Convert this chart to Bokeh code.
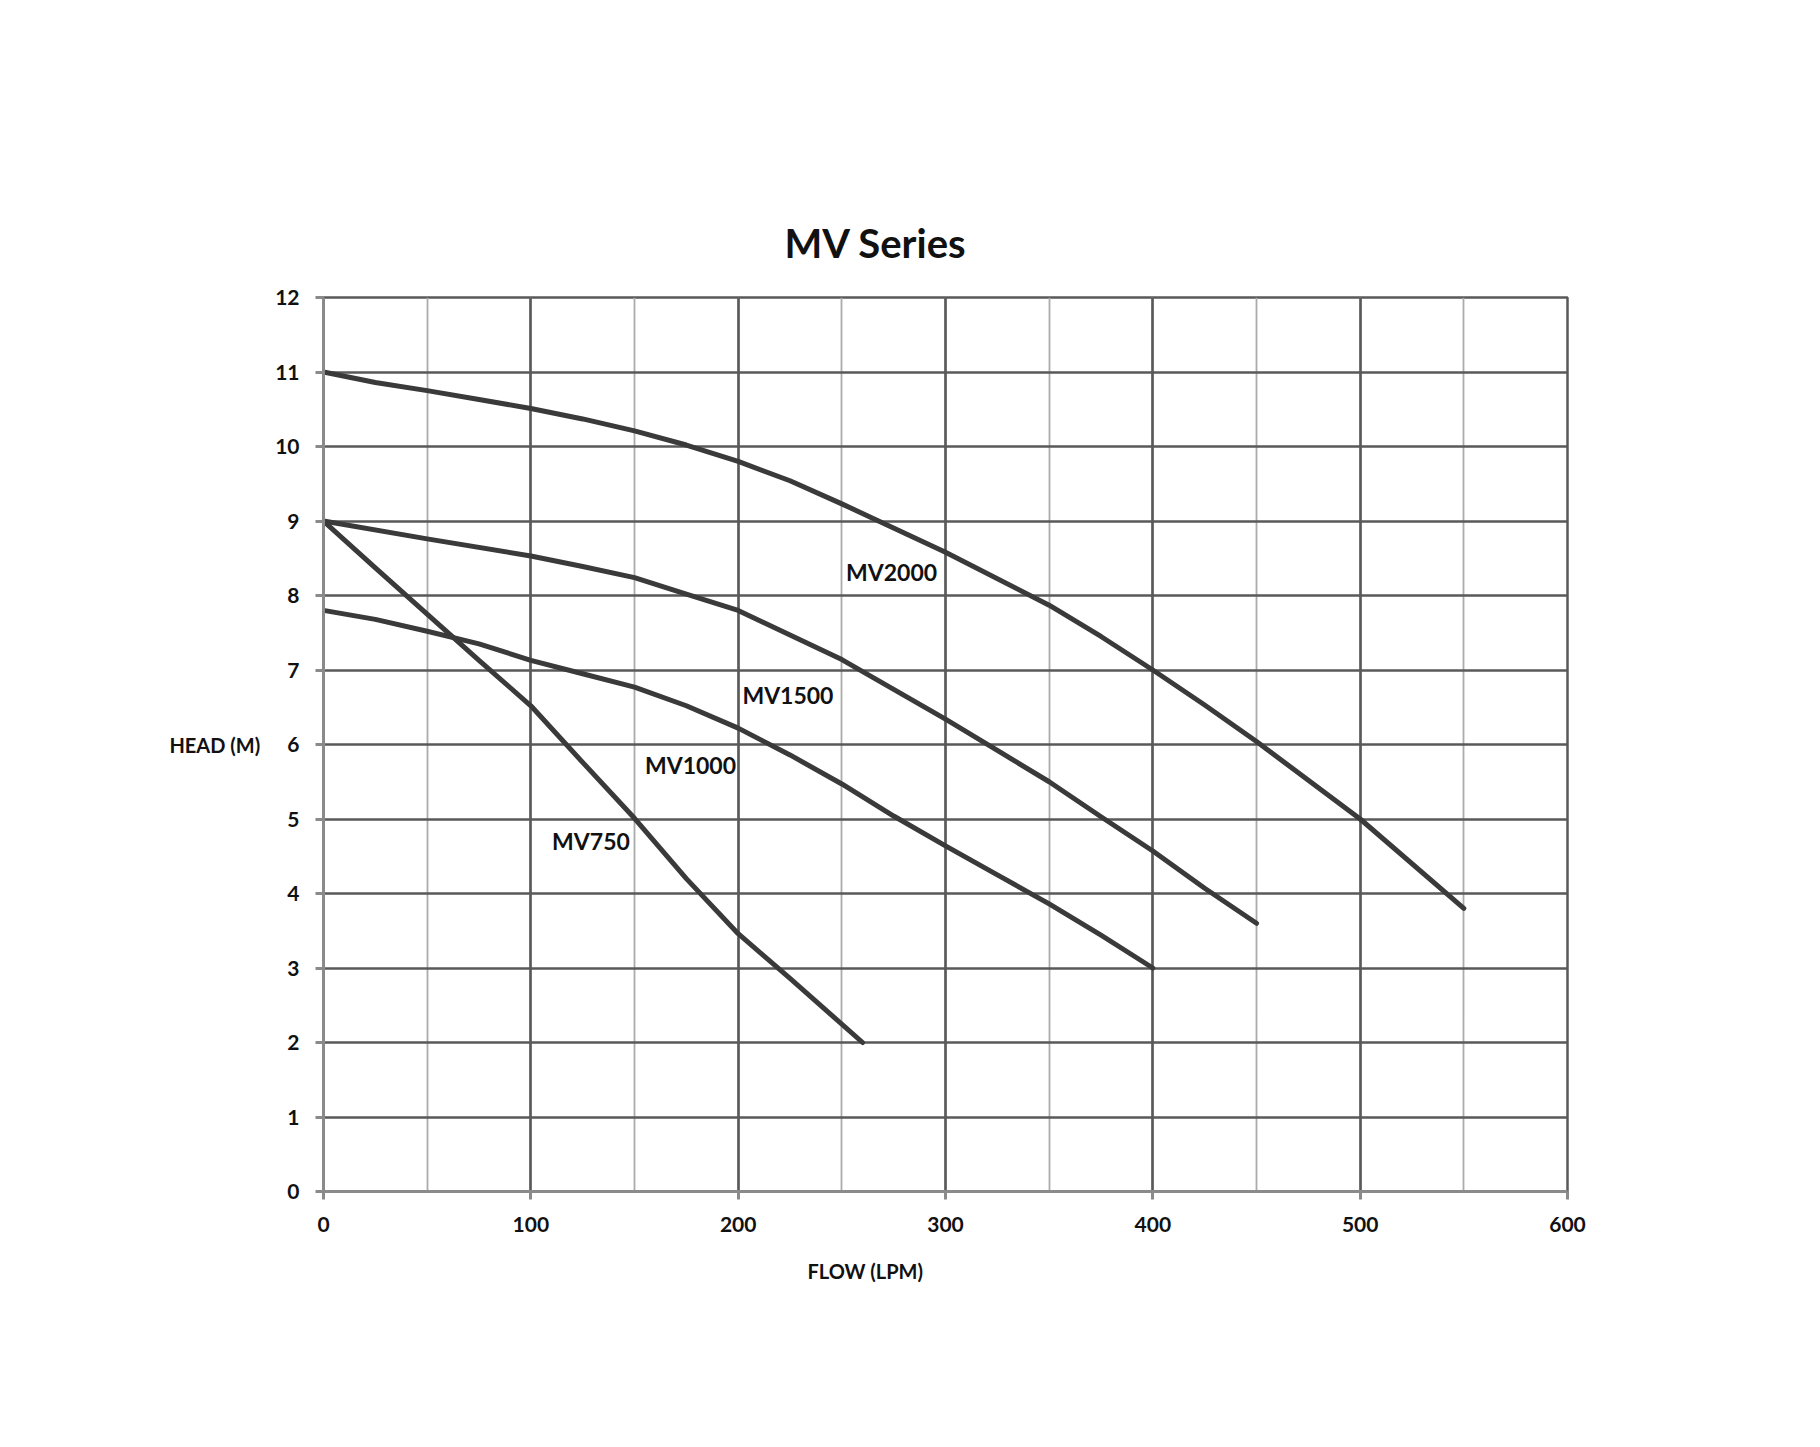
from bokeh.plotting import figure
from bokeh.models import Range1d, SingleIntervalTicker, Title, ColumnDataSource
from bokeh.core.properties import value
from bokeh.embed import file_html
from bokeh.resources import INLINE

# ---- data ----
mv2000_flow = [0, 25, 50, 75, 100, 125, 150, 175, 200, 225, 250, 300, 350, 375, 400, 425, 450, 475, 500, 550]
mv2000_head = [11.0, 10.86, 10.75, 10.63, 10.51, 10.37, 10.21, 10.02, 9.80, 9.54, 9.23, 8.58, 7.87, 7.45,
               7.0, 6.53, 6.04, 5.52, 5.0, 3.8]

mv1500_flow = [0, 50, 100, 125, 150, 175, 200, 250, 300, 325, 350, 375, 400, 425, 450]
mv1500_head = [9.0, 8.76, 8.53, 8.39, 8.24, 8.02, 7.80, 7.14, 6.34, 5.92, 5.50, 5.03, 4.57, 4.07, 3.6]

mv1000_flow = [0, 25, 50, 75, 100, 125, 150, 175, 200, 225, 250, 275, 300, 325, 350, 375, 400]
mv1000_head = [7.8, 7.68, 7.52, 7.35, 7.13, 6.95, 6.77, 6.52, 6.22, 5.86, 5.47, 5.04, 4.64, 4.25, 3.86, 3.44, 3.0]

mv750_flow = [0, 25, 50, 75, 100, 125, 150, 175, 200, 225, 260]
mv750_head = [9.0, 8.37, 7.75, 7.13, 6.52, 5.76, 5.01, 4.20, 3.46, 2.86, 2.0]

series_names = ["MV2000", "MV1500", "MV1000", "MV750"]
label_flow = [274, 224, 177, 129]
label_head = [8.31, 6.67, 5.73, 4.71]

title_text = "MV Series"
x_title = "FLOW (LPM)"
y_title = "HEAD (M)"

FONT = "Lato"
DARK = "#595959"
CURVE = "#3a3a3a"
TXT = "#111111"

p = figure(width=1800, height=1430, output_backend="svg", toolbar_location=None,
           x_range=Range1d(0, 600), y_range=Range1d(0, 12),
           min_border_left=323, min_border_right=233,
           min_border_top=297, min_border_bottom=239)
p.background_fill_color = "white"
p.border_fill_color = "white"
p.outline_line_color = DARK
p.outline_line_width = 2.5

# chart title (off-centre, as in the reference)
p.title = Title(text=title_text, align="left", offset=461, standoff=62,
                text_font=FONT, text_font_style="bold", text_font_size="40px",
                text_color=TXT)

# axes
p.xaxis.ticker = SingleIntervalTicker(interval=100, num_minor_ticks=2)
p.yaxis.ticker = SingleIntervalTicker(interval=1, num_minor_ticks=0)
for ax in (p.xaxis, p.yaxis):
    ax.axis_line_color = "#8a8a8a"
    ax.axis_line_width = 3
    ax.major_tick_line_color = "#8a8a8a"
    ax.major_tick_line_width = 3
    ax.major_tick_out = 8
    ax.major_tick_in = 0
    ax.minor_tick_line_color = None
    ax.major_label_text_font = FONT
    ax.major_label_text_font_style = "bold"
    ax.major_label_text_font_size = "21px"
    ax.major_label_text_color = TXT
p.xaxis.major_label_standoff = 17
p.yaxis.major_label_standoff = 16

p.yaxis.axis_label = y_title
p.yaxis.axis_label_orientation = "horizontal"
p.yaxis.axis_label_standoff = 12
p.yaxis.axis_label_text_font = FONT
p.yaxis.axis_label_text_font_style = "bold"
p.yaxis.axis_label_text_font_size = "20px"
p.yaxis.axis_label_text_color = TXT

p.add_layout(Title(text=x_title, align="left", offset=484, standoff=44,
                   text_font=FONT, text_font_style="bold", text_font_size="20px",
                   text_color=TXT), "below")

# grid
p.xgrid.grid_line_color = DARK
p.xgrid.grid_line_width = 2.6
p.xgrid.minor_grid_line_color = "#ababab"
p.xgrid.minor_grid_line_width = 1.8
p.ygrid.grid_line_color = DARK
p.ygrid.grid_line_width = 2.6

# curves
for fx, hy in [(mv2000_flow, mv2000_head), (mv1500_flow, mv1500_head),
               (mv1000_flow, mv1000_head), (mv750_flow, mv750_head)]:
    p.line(fx, hy, line_color=CURVE, line_width=5, line_cap="round", line_join="round")

# series labels
src = ColumnDataSource(dict(x=label_flow, y=label_head, t=series_names))
p.text(x="x", y="y", text="t", source=src, text_font=value(FONT),
       text_font_style="bold", text_font_size="23px", text_color=TXT,
       text_align="center", text_baseline="middle")

open("out.html", "w").write(file_html(p, INLINE))
